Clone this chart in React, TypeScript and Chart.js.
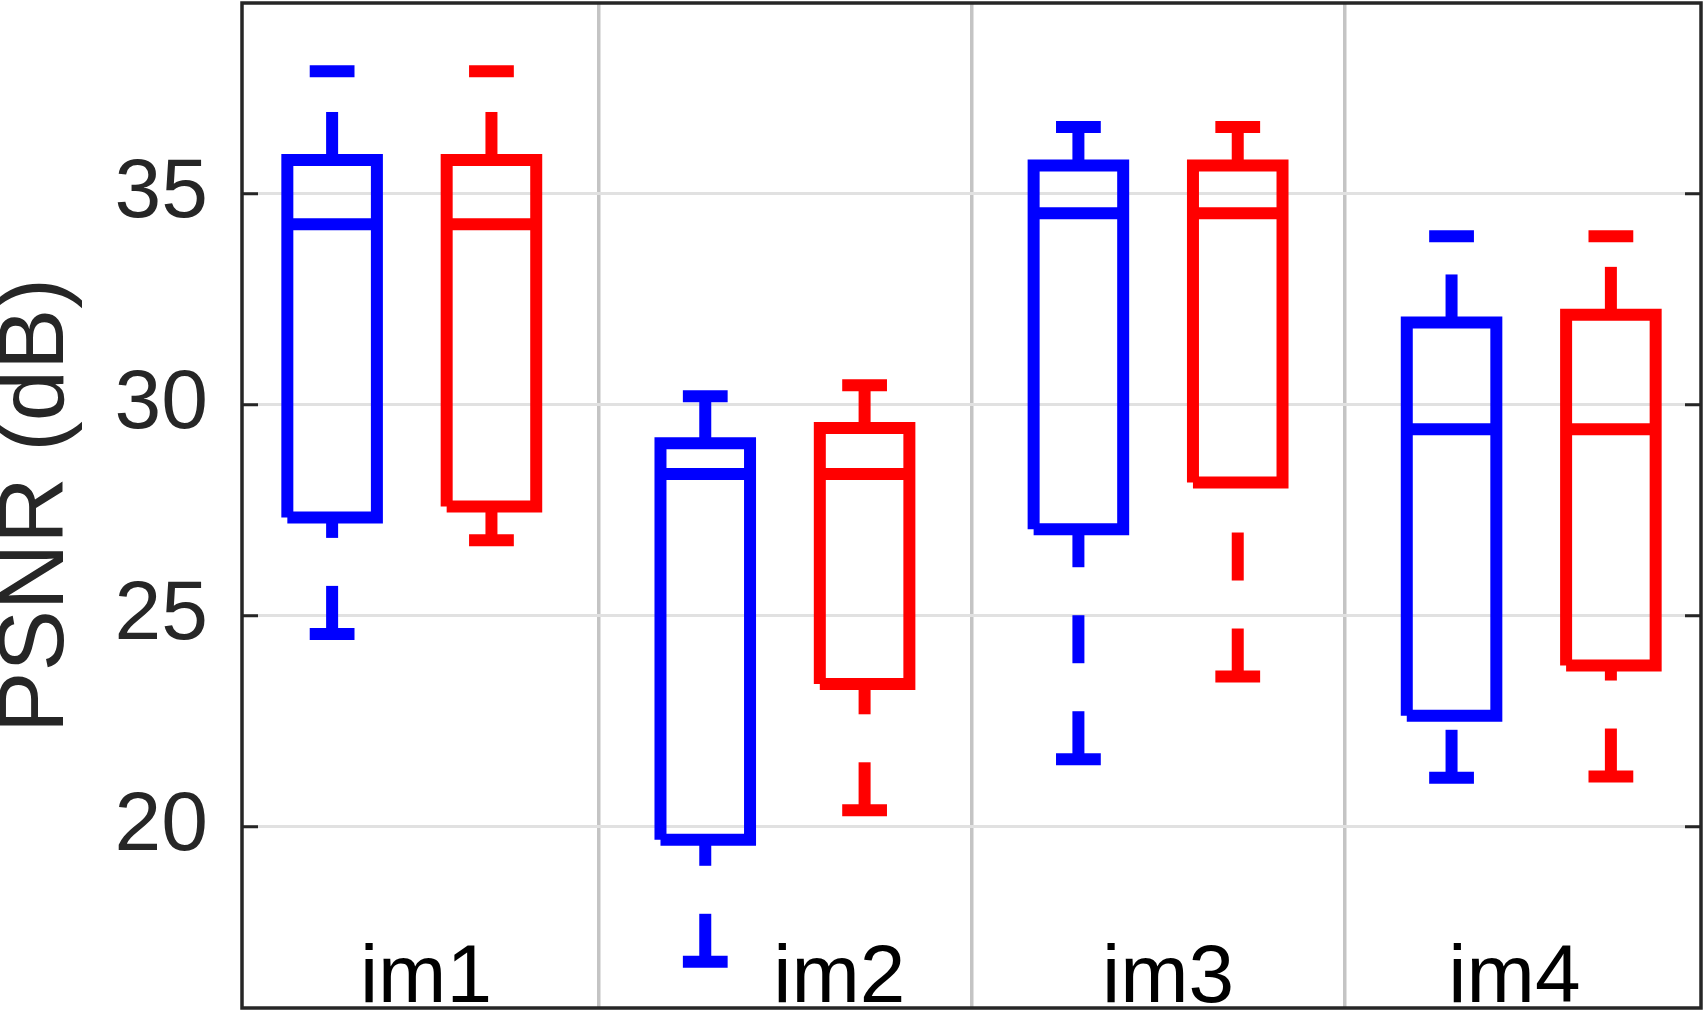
import React, { useEffect, useRef } from "react";
import { Chart, registerables } from "chart.js";

Chart.register(...registerables);

// ---- data ----
const categories = ["im1", "im2", "im3", "im4"];
const yTicks = [20, 25, 30, 35];

const blueUpper = [37.9, 30.2, 36.58, 33.99];
const blueQ3 = [35.8, 29.09, 35.67, 31.95];
const blueMedian = [34.28, 28.36, 34.54, 29.42];
const blueQ1 = [27.33, 19.69, 27.05, 22.63];
const blueLower = [24.57, 16.8, 21.6, 21.16];

const redUpper = [37.9, 30.46, 36.58, 33.99];
const redQ3 = [35.8, 29.45, 35.67, 32.13];
const redMedian = [34.28, 28.36, 34.54, 29.42];
const redQ1 = [27.59, 23.38, 28.16, 23.82];
const redLower = [26.79, 20.39, 23.56, 21.19];

// ---- layout / style constants ----
const X_MIN = 0.545;
const X_MAX = 4.455;
const Y_MIN = 15.705;
const Y_MAX = 39.52;
const SERIES_OFFSET = 0.2135;
const BOX_HALF = 0.12;
const CAP_HALF = 0.06;
const LINE_W = 12;
const DASH = [48, 48];
const labelShift = [0.038, 0.146, 0.027, -0.045];
const FONT = '"Liberation Sans", Arial, Helvetica, sans-serif';

type Series = {
  color: string;
  offset: number;
  upper: number[];
  q3: number[];
  median: number[];
  q1: number[];
  lower: number[];
};

const seriesList: Series[] = [
  { color: "#0000ff", offset: -SERIES_OFFSET, upper: blueUpper, q3: blueQ3, median: blueMedian, q1: blueQ1, lower: blueLower },
  { color: "#ff0000", offset: SERIES_OFFSET, upper: redUpper, q3: redQ3, median: redMedian, q1: redQ1, lower: redLower },
];

function line(data: { x: number; y: number }[], color: string, dashed = false) {
  return {
    data,
    showLine: true,
    borderColor: color,
    backgroundColor: color,
    borderWidth: LINE_W,
    borderCapStyle: "butt" as const,
    borderJoinStyle: "miter" as const,
    borderDash: dashed ? DASH : [],
    pointRadius: 0,
    pointHoverRadius: 0,
    tension: 0,
    fill: false,
  };
}

function buildDatasets() {
  const ds: any[] = [];
  seriesList.forEach((s) => {
    categories.forEach((_, i) => {
      const p = i + 1 + s.offset;
      const l = p - BOX_HALF;
      const r = p + BOX_HALF;
      // box
      ds.push(
        line(
          [
            { x: l, y: s.q1[i] },
            { x: l, y: s.q3[i] },
            { x: r, y: s.q3[i] },
            { x: r, y: s.q1[i] },
            { x: l, y: s.q1[i] },
          ],
          s.color
        )
      );
      // median
      ds.push(line([{ x: l, y: s.median[i] }, { x: r, y: s.median[i] }], s.color));
      // upper whisker (from box up)
      ds.push(line([{ x: p, y: s.q3[i] }, { x: p, y: s.upper[i] }], s.color, true));
      // lower whisker (from end up to box)
      ds.push(line([{ x: p, y: s.lower[i] }, { x: p, y: s.q1[i] }], s.color, true));
      // caps
      ds.push(line([{ x: p - CAP_HALF, y: s.upper[i] }, { x: p + CAP_HALF, y: s.upper[i] }], s.color));
      ds.push(line([{ x: p - CAP_HALF, y: s.lower[i] }, { x: p + CAP_HALF, y: s.lower[i] }], s.color));
    });
  });
  return ds;
}

const framePlugin = {
  id: "frameAndLabels",
  afterDraw(chart: any) {
    const { ctx, chartArea: a, scales } = chart;
    ctx.save();
    // group labels
    ctx.fillStyle = "#000000";
    ctx.font = `82px ${FONT}`;
    ctx.textAlign = "center";
    ctx.textBaseline = "alphabetic";
    categories.forEach((c, i) => {
      ctx.fillText(c, scales.x.getPixelForValue(i + 1 + labelShift[i]), a.bottom - 6);
    });
    // inner tick marks
    ctx.strokeStyle = "#262626";
    ctx.lineWidth = 3;
    yTicks.forEach((v) => {
      const y = scales.y.getPixelForValue(v);
      ctx.beginPath();
      ctx.moveTo(a.left, y);
      ctx.lineTo(a.left + 16, y);
      ctx.moveTo(a.right, y);
      ctx.lineTo(a.right - 16, y);
      ctx.stroke();
    });
    // frame
    ctx.lineWidth = 3.5;
    ctx.strokeRect(a.left, a.top, a.right - a.left, a.bottom - a.top);
    ctx.restore();
  },
};

export default function App() {
  const ref = useRef<HTMLCanvasElement | null>(null);

  useEffect(() => {
    if (!ref.current) return;
    const chart = new Chart(ref.current, {
      type: "scatter",
      data: { datasets: buildDatasets() },
      options: {
        animation: false,
        responsive: false,
        devicePixelRatio: 1,
        layout: { padding: { left: 0, top: 3, right: 7, bottom: 8 } },
        plugins: { legend: { display: false }, tooltip: { enabled: false } },
        scales: {
          x: {
            type: "linear",
            position: "bottom",
            min: X_MIN,
            max: X_MAX,
            afterBuildTicks: (scale: any) => {
              scale.ticks = [1.5, 2.5, 3.5].map((v) => ({ value: v }));
            },
            afterFit: (scale: any) => {
              scale.height = 0;
              scale.paddingLeft = 0;
              scale.paddingRight = 0;
            },
            ticks: { display: false },
            grid: { display: true, color: "#c4c4c4", lineWidth: 3.5, drawTicks: false },
            border: { display: false },
          },
          y: {
            type: "linear",
            position: "left",
            min: Y_MIN,
            max: Y_MAX,
            afterBuildTicks: (scale: any) => {
              scale.ticks = yTicks.map((v) => ({ value: v }));
            },
            afterFit: (scale: any) => {
              scale.width = 242;
              scale.paddingTop = 0;
              scale.paddingBottom = 0;
            },
            ticks: {
              color: "#262626",
              font: { family: FONT, size: 84 },
              padding: 34,
              callback: (v: any) => String(v),
            },
            grid: { display: true, color: "#e1e1e1", lineWidth: 3, drawTicks: false },
            border: { display: false },
            title: {
              display: true,
              text: "PSNR (dB)",
              color: "#262626",
              font: { family: FONT, size: 92, lineHeight: 0.8 },
              padding: { top: 1, bottom: 0 },
            },
          },
        },
      },
      plugins: [framePlugin],
    } as any);
    return () => chart.destroy();
  }, []);

  return (
    <div style={{ position: "absolute", left: 0, top: 0, width: 1708, height: 1016, background: "#ffffff" }}>
      <canvas ref={ref} width={1708} height={1016} style={{ display: "block" }} />
    </div>
  );
}
